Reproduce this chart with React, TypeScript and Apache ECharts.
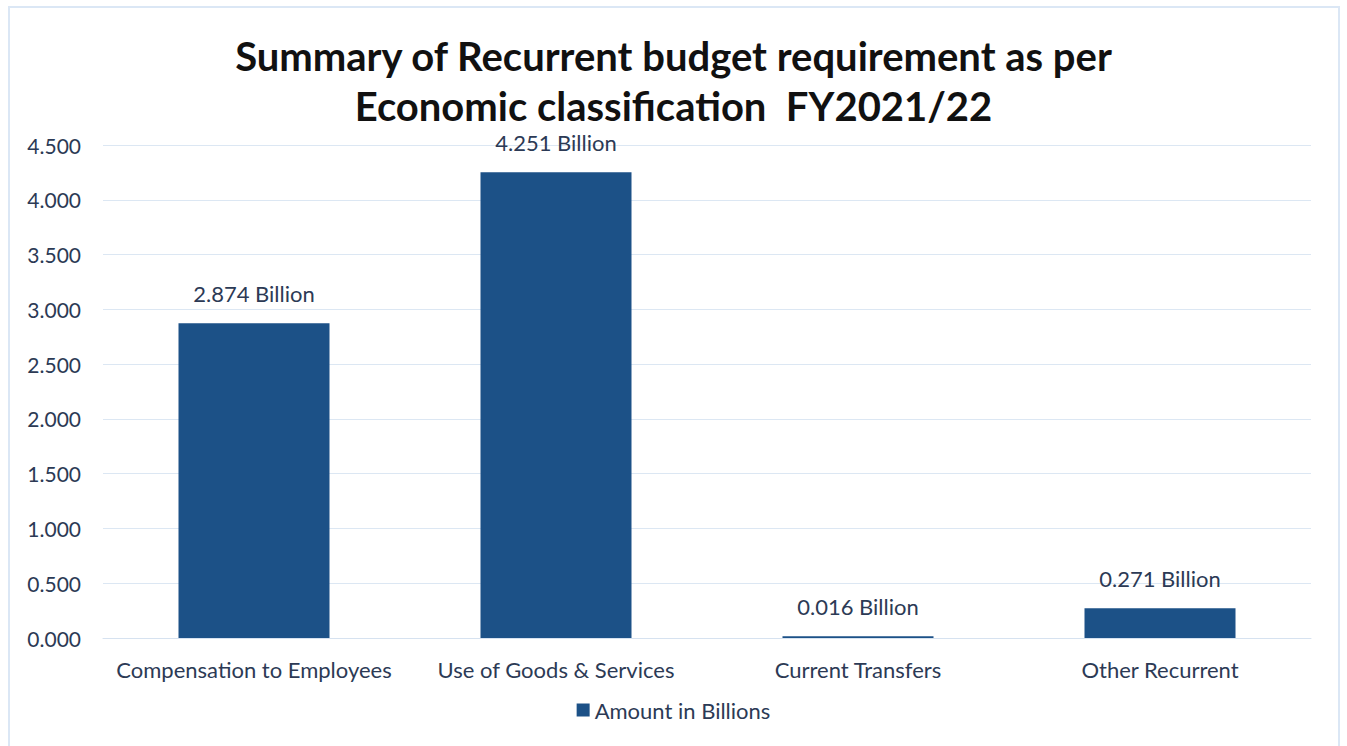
import React, { useEffect, useRef } from "react";
import * as echarts from "echarts";

const categories = [
  "Compensation to Employees",
  "Use of Goods & Services",
  "Current Transfers",
  "Other Recurrent",
];
const amounts = [2.874, 4.251, 0.016, 0.271];
const seriesName = "Amount in Billions";
const titleText = "Summary of Recurrent budget requirement as per\nEconomic classification  FY2021/22";

export default function App() {
  const ref = useRef<HTMLDivElement>(null);
  useEffect(() => {
    const chart = echarts.init(ref.current!, null, { renderer: "svg" });
    const font = "Lato";
    chart.setOption({
      animation: false,
      backgroundColor: "#ffffff",
      title: {
        text: titleText,
        left: "center",
        top: 26,
        textStyle: {
          fontFamily: font,
          fontWeight: "bold",
          fontSize: 40,
          lineHeight: 50,
          color: "#111111",
        },
      },
      legend: {
        bottom: 20,
        left: "center",
        icon: "rect",
        itemWidth: 13,
        itemHeight: 13,
        itemGap: 6,
        textStyle: { fontFamily: font, fontSize: 22, color: "#2c3a55" },
        data: [seriesName],
      },
      grid: { left: 103, right: 36, top: 145, bottom: 108, containLabel: false },
      xAxis: {
        type: "category",
        data: categories,
        axisLine: { show: true, lineStyle: { color: "#d6e2f0" } },
        axisTick: { show: false },
        axisLabel: { fontFamily: font, fontSize: 22, color: "#2c3a55", margin: 20, interval: 0 },
      },
      yAxis: {
        type: "value",
        min: 0,
        max: 4.5,
        interval: 0.5,
        axisLine: { show: false },
        axisTick: { show: false },
        splitLine: { lineStyle: { color: "#dce7f3" } },
        axisLabel: {
          fontFamily: font,
          fontSize: 21,
          color: "#2c3a55",
          margin: 22,
          formatter: (v: number) => v.toFixed(3),
        },
      },
      series: [
        {
          name: seriesName,
          type: "bar",
          data: amounts,
          barWidth: "50%",
          itemStyle: { color: "#1c5187" },
          label: {
            show: true,
            position: "top",
            distance: 19,
            fontFamily: font,
            fontSize: 22,
            color: "#2c3a55",
            formatter: (p: any) => `${Number(p.value).toFixed(3)} Billion`,
          },
        },
      ],
    });
    return () => chart.dispose();
  }, []);
  return (
    <div
      style={{
        position: "absolute",
        left: 0,
        top: 0,
        width: 1347,
        height: 746,
        background: "#ffffff",
      }}
    >
      <div
        style={{
          position: "absolute",
          left: 8,
          top: 6,
          width: 1332,
          height: 750,
          border: "2px solid #dbe7f5",
          boxSizing: "border-box",
          pointerEvents: "none",
          zIndex: 2,
        }}
      />
      <div ref={ref} style={{ position: "absolute", left: 0, top: 0, width: 1347, height: 746 }} />
    </div>
  );
}
